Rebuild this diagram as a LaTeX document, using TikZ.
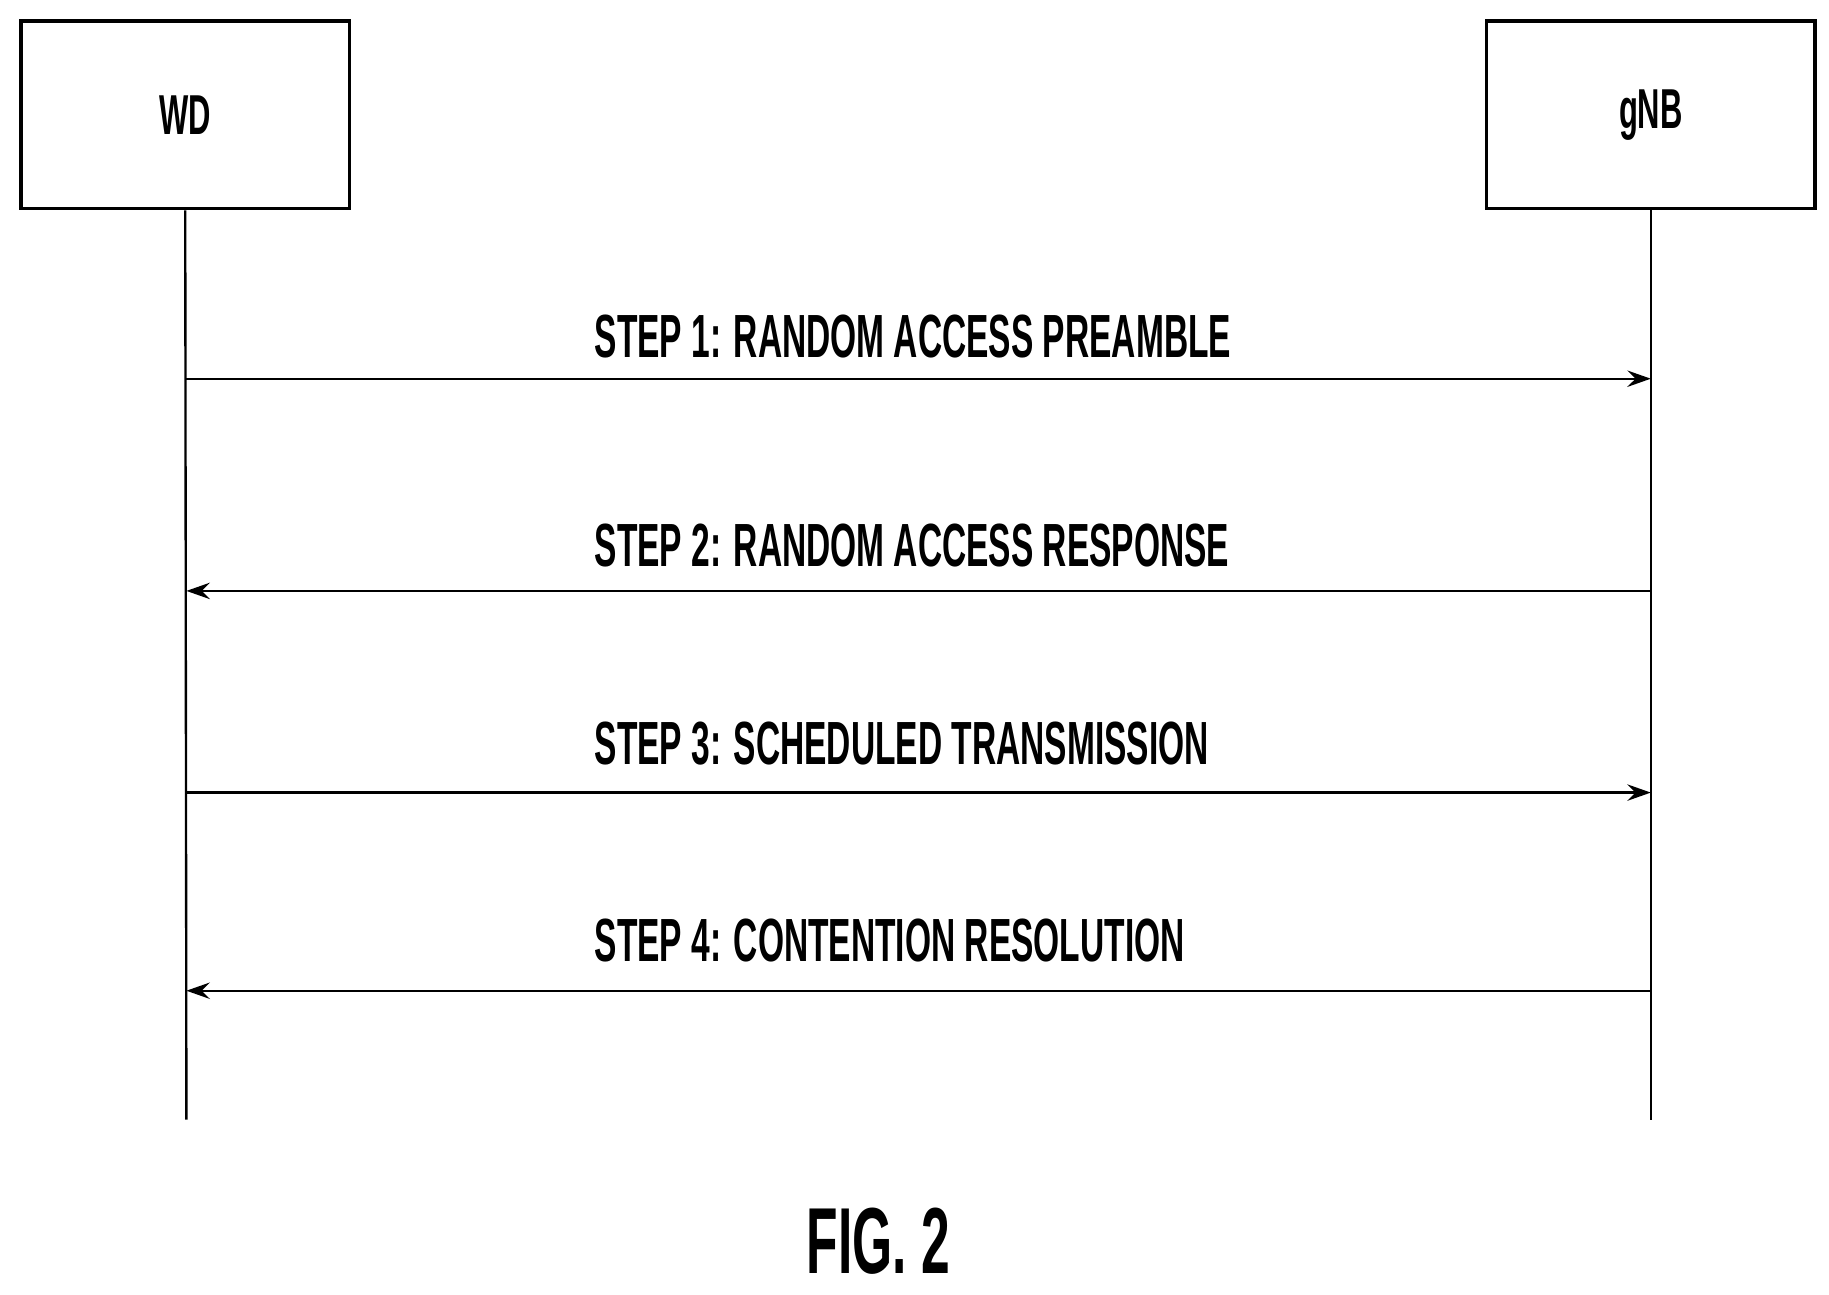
\documentclass[tikz,border=0pt]{standalone}
\usepackage{fontspec}
\setmainfont{Liberation Sans}[FakeStretch=0.55]
\usetikzlibrary{arrows.meta}
\begin{document}
\begin{tikzpicture}[x=1pt,y=-1pt,
  ent/.style={draw,line width=3pt,minimum width=280pt,minimum height=160pt,font=\fontsize{48}{50}\selectfont\bfseries},
  life/.style={line width=2pt},
  msg/.style={line width=2pt,-{Stealth[length=20pt,width=14pt,inset=7pt]}},
  lbl/.style={anchor=base west,font=\fontsize{52}{54}\selectfont\bfseries,inner sep=0pt}]
\useasboundingbox (0,0) rectangle (1560,1104);
\node[ent] (wd) at (158,98) {WD};
\node[ent] (gnb) at (1408,98) {gNB};
\coordinate (wdb) at (159,955);
\coordinate (gnbb) at (1408,955);
\draw[life] (wd.south) -- (wdb);
\draw[life] (gnb.south) -- (gnbb);
\coordinate (a1) at (159,323); \coordinate (b1) at (1408,323);
\coordinate (a2) at (159,504); \coordinate (b2) at (1408,504);
\coordinate (a3) at (159,676); \coordinate (b3) at (1408,676);
\coordinate (a4) at (159,845); \coordinate (b4) at (1408,845);
\draw[msg] (a1) -- (b1);
\draw[msg] (b2) -- (a2);
\draw[msg] (a3) -- (b3);
\draw[msg] (b4) -- (a4);
\node[lbl] (l1) at (507,305) {STEP 1: RANDOM ACCESS PREAMBLE};
\node[lbl] (l2) at (507,483) {STEP 2: RANDOM ACCESS RESPONSE};
\node[lbl] (l3) at (507,652) {STEP 3: SCHEDULED TRANSMISSION};
\node[lbl] (l4) at (507,820) {STEP 4: CONTENTION RESOLUTION};
\node[anchor=base,font=\fontsize{80}{82}\selectfont\bfseries,inner sep=0pt] (fig) at (749,1086) {FIG. 2};
\end{tikzpicture}
\end{document}
